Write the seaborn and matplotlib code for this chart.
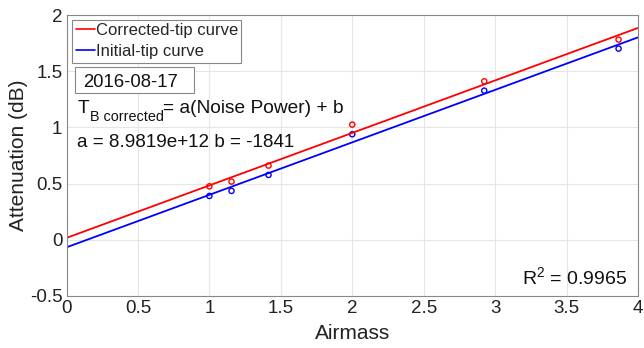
import numpy as np
import pandas as pd
import matplotlib
matplotlib.use("Agg")
import matplotlib.pyplot as plt
import seaborn as sns
from matplotlib.lines import Line2D
from matplotlib.patches import Rectangle

# Data
airmass = [1.0, 1.155, 1.414, 2.0, 2.924, 3.864]
corrected = [0.476, 0.518, 0.660, 1.025, 1.410, 1.781]
initial = [0.390, 0.435, 0.577, 0.939, 1.327, 1.701]
corr_slope, corr_icpt = 0.467, 0.017
init_slope, init_icpt = 0.467, -0.067
line_x = [0.0, 4.0]
xticks = [0, 0.5, 1, 1.5, 2, 2.5, 3, 3.5, 4]
yticks = [-0.5, 0, 0.5, 1, 1.5, 2]
series_names = ["Corrected-tip curve", "Initial-tip curve"]

sns.set_style("whitegrid")
plt.rcParams['font.family'] = ['Liberation Sans', 'DejaVu Sans']
plt.rcParams['mathtext.fontset'] = 'custom'
plt.rcParams['mathtext.rm'] = 'Liberation Sans'
plt.rcParams['mathtext.it'] = 'Liberation Sans'

W, H = 644, 348
L, R, T, B = 66.5, 638, 15, 296
fig = plt.figure(figsize=(W / 100, H / 100), dpi=100)
ax = fig.add_axes([L / W, 1 - B / H, (R - L) / W, (B - T) / H])

def ax_x(px):
    return (px - L) / (R - L)

def ax_y(py):
    return (B - py) / (B - T)

lines = pd.DataFrame({
    "x": line_x * 2,
    "y": [corr_icpt + corr_slope * v for v in line_x] + [init_icpt + init_slope * v for v in line_x],
    "s": [series_names[0]] * 2 + [series_names[1]] * 2,
})
sns.lineplot(data=lines, x="x", y="y", hue="s", palette=["#ff0000", "#0000ff"],
             linewidth=1.3, ax=ax, legend=False)
sns.scatterplot(x=airmass, y=corrected, ax=ax, marker="o", s=14, facecolors="none",
                edgecolor="#ff0000", linewidth=1.0)
sns.scatterplot(x=airmass, y=initial, ax=ax, marker="o", s=14, facecolors="none",
                edgecolor="#0000ff", linewidth=1.0)

ax.set_xlim(0, 4)
ax.set_ylim(-0.5, 2)
ax.set_xticks(xticks)
ax.set_xticklabels([f"{t:g}" for t in xticks])
ax.set_yticks(yticks)
ax.set_yticklabels([f"{t:g}" for t in yticks])
ax.grid(True, color="#e6e6e6", linewidth=0.8)
for sp in ax.spines.values():
    sp.set_visible(True)
    sp.set_color("#888888")
    sp.set_linewidth(0.8)
ax.tick_params(axis="both", direction="in", length=4, labelsize=13.5, pad=3,
               colors="#888888", labelcolor="#222222")
ax.set_xlabel("Airmass", fontsize=15, color="#222222", labelpad=5)
ax.set_ylabel("Attenuation (dB)", fontsize=15, color="#222222", labelpad=1)

handles = [Line2D([], [], color="#ff0000", lw=1.2), Line2D([], [], color="#0000ff", lw=1.2)]
leg = ax.legend(handles, series_names, loc="upper left",
                bbox_to_anchor=(ax_x(72.3), ax_y(20)), fontsize=12, frameon=True, fancybox=False,
                handlelength=1.15, handletextpad=0.05, borderpad=0.2, labelspacing=0.35,
                borderaxespad=0.0, edgecolor="#888888", framealpha=1)
leg.get_frame().set_linewidth(0.8)

# date box
ax.add_patch(Rectangle((ax_x(75), ax_y(93.3)), ax_x(194.3) - ax_x(75), ax_y(66.7) - ax_y(93.3),
                       transform=ax.transAxes, fc="white", ec="#888888", lw=0.8, zorder=5))
ax.text(ax_x(82.7), ax_y(86.7), "2016-08-17", transform=ax.transAxes, fontsize=13.3,
        va="baseline", ha="left", color="#111111", zorder=6)

# equation: T with subscript, then the rest
t_main = ax.text(ax_x(77.3), ax_y(112.7), "T", transform=ax.transAxes, fontsize=13.8,
                 va="baseline", ha="left", color="#111111")
t_sub = ax.annotate("B corrected", xy=(1, 0), xycoords=t_main, xytext=(0.5, -4.5),
                    textcoords="offset pixels", fontsize=10.4, va="baseline", ha="left",
                    color="#111111")
ax.annotate("= a(Noise Power) + b", xy=(1, 0), xycoords=(t_sub, t_main),
            fontsize=13.8, va="bottom", ha="left", color="#111111")
ax.text(ax_x(77.3), ax_y(146.7), "a = 8.9819e+12 b = -1841", transform=ax.transAxes,
        fontsize=13.6, va="baseline", ha="left", color="#111111")
ax.text(ax_x(627.3), ax_y(284.3), r"R$^2$ = 0.9965", transform=ax.transAxes,
        fontsize=14, va="baseline", ha="right", color="#111111")

fig.savefig("out.png", dpi=100)
